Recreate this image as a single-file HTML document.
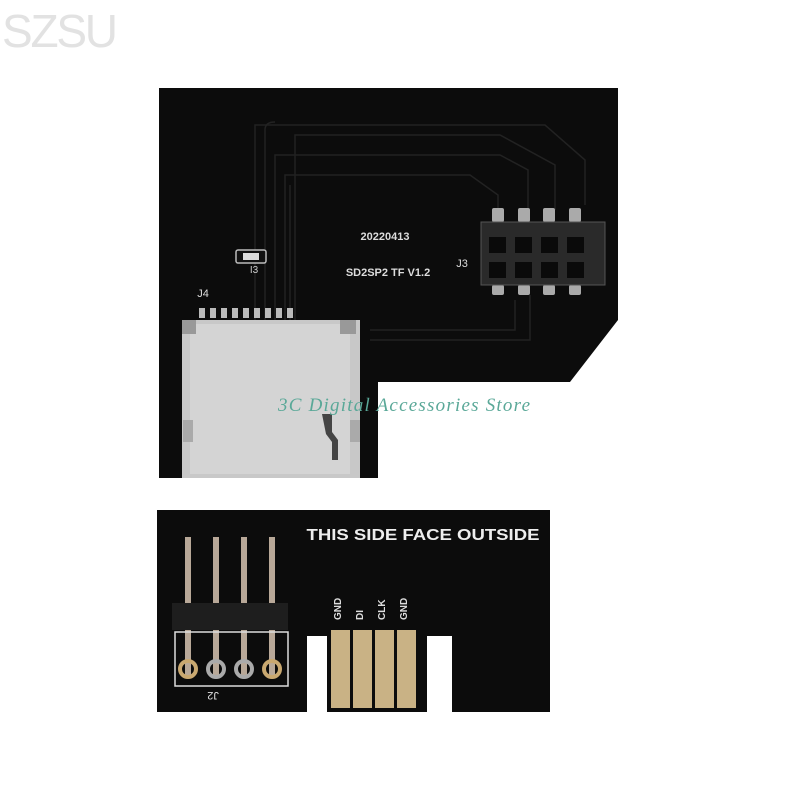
<!DOCTYPE html>
<html><head><meta charset="utf-8"><style>
html,body{margin:0;padding:0;background:#fff;width:800px;height:800px;overflow:hidden}
svg{display:block}
</style></head><body>
<svg width="800" height="800" viewBox="0 0 800 800" xmlns="http://www.w3.org/2000/svg" font-family="Liberation Sans, sans-serif">
<rect width="800" height="800" fill="#fff"/>
<text x="2" y="47" font-size="46" fill="#e2e2e2" textLength="116">SZSU</text>

<!-- top board -->
<polygon points="159,88 618,88 618,320 570,382 378,382 378,478 159,478" fill="#0c0c0c"/>
<g fill="none" stroke="#222" stroke-width="1.5">
<path d="M255,320 V125 H545 L585,160 V205"/>
<path d="M265,320 V130 Q265,122 275,122"/>
<path d="M295,320 V135 H500 L555,165 V210"/>
<path d="M275,320 V155 H500 L528,170 V210"/>
<path d="M285,320 V175 H470 L498,195 V210"/>
<path d="M290,320 V185"/>
<path d="M370,330 H515 V300 M370,340 H530 V295"/>
</g>
<rect x="236" y="250" width="30" height="13" rx="2" fill="#111" stroke="#bbb" stroke-width="1.5"/>
<rect x="243" y="253" width="16" height="7" fill="#ddd"/>
<text x="254" y="273" font-size="10" fill="#ccc" text-anchor="middle">I3</text>
<text x="203" y="297" font-size="11" fill="#ddd" text-anchor="middle">J4</text>
<text x="385" y="240" font-size="11" font-weight="bold" fill="#ddd" text-anchor="middle">20220413</text>
<text x="388" y="276" font-size="11" font-weight="bold" fill="#ddd" text-anchor="middle">SD2SP2  TF  V1.2</text>
<text x="462" y="267" font-size="11" fill="#ddd" text-anchor="middle">J3</text>
<g fill="#aaa">
<rect x="492" y="208" width="12" height="14" rx="2"/><rect x="518" y="208" width="12" height="14" rx="2"/><rect x="543" y="208" width="12" height="14" rx="2"/><rect x="569" y="208" width="12" height="14" rx="2"/>
<rect x="492" y="285" width="12" height="10" rx="2"/><rect x="518" y="285" width="12" height="10" rx="2"/><rect x="543" y="285" width="12" height="10" rx="2"/><rect x="569" y="285" width="12" height="10" rx="2"/>
</g>
<rect x="481" y="222" width="124" height="63" fill="#2a2a2a" stroke="#555"/>
<g fill="#0a0a0a">
<rect x="489" y="237" width="17" height="16"/><rect x="515" y="237" width="17" height="16"/><rect x="541" y="237" width="17" height="16"/><rect x="567" y="237" width="17" height="16"/>
<rect x="489" y="262" width="17" height="16"/><rect x="515" y="262" width="17" height="16"/><rect x="541" y="262" width="17" height="16"/><rect x="567" y="262" width="17" height="16"/>
</g>
<g fill="#bbb">
<rect x="199" y="308" width="6" height="10"/><rect x="210" y="308" width="6" height="10"/><rect x="221" y="308" width="6" height="10"/><rect x="232" y="308" width="6" height="10"/><rect x="243" y="308" width="6" height="10"/><rect x="254" y="308" width="6" height="10"/><rect x="265" y="308" width="6" height="10"/><rect x="276" y="308" width="6" height="10"/><rect x="287" y="308" width="6" height="10"/>
</g>
<rect x="182" y="320" width="178" height="158" fill="#c8c8c8"/>
<rect x="190" y="324" width="160" height="150" fill="#d4d4d4"/>
<rect x="182" y="320" width="14" height="14" fill="#999"/><rect x="340" y="320" width="16" height="14" fill="#999"/>
<rect x="183" y="420" width="10" height="22" fill="#aaa"/><rect x="350" y="420" width="10" height="22" fill="#aaa"/>
<path d="M322,414 h10 v18 l6,8 v20 h-6 v-18 l-6,-8 z" fill="#444"/>

<text x="404" y="411" font-family="Liberation Serif, serif" font-style="italic" font-size="19" fill="#5aa898" text-anchor="middle" textLength="252">3C Digital Accessories Store</text>

<!-- bottom board -->
<polygon points="157,510 550,510 550,712 452,712 452,636 427,636 427,712 327,712 327,636 307,636 307,712 157,712" fill="#0c0c0c"/>
<text x="423" y="540" font-size="16" font-weight="bold" fill="#eee" text-anchor="middle" textLength="233" lengthAdjust="spacingAndGlyphs">THIS SIDE FACE OUTSIDE</text>
<g fill="#b8a898">
<rect x="185" y="537" width="6" height="140"/><rect x="213" y="537" width="6" height="140"/><rect x="241" y="537" width="6" height="140"/><rect x="269" y="537" width="6" height="140"/>
</g>
<rect x="172" y="603" width="116" height="27" fill="#1e1e1e"/>
<rect x="175" y="632" width="113" height="54" fill="none" stroke="#ddd" stroke-width="1.5"/>
<g stroke-width="4" fill="none">
<circle cx="188" cy="669" r="8" stroke="#c9a870"/><circle cx="216" cy="669" r="8" stroke="#aaa"/><circle cx="244" cy="669" r="8" stroke="#aaa"/><circle cx="272" cy="669" r="8" stroke="#c9a870"/>
</g>
<text x="213" y="700" font-size="11" fill="#ddd" text-anchor="middle" transform="rotate(180 213 696)">J2</text>
<g fill="#c9b285">
<rect x="331" y="630" width="19" height="78"/><rect x="353" y="630" width="19" height="78"/><rect x="375" y="630" width="19" height="78"/><rect x="397" y="630" width="19" height="78"/>
</g>
<g font-size="10" font-weight="bold" fill="#ddd">
<text transform="translate(341,620) rotate(-90)">GND</text>
<text transform="translate(363,620) rotate(-90)">DI</text>
<text transform="translate(385,620) rotate(-90)">CLK</text>
<text transform="translate(407,620) rotate(-90)">GND</text>
</g>
</svg>
</body></html>
